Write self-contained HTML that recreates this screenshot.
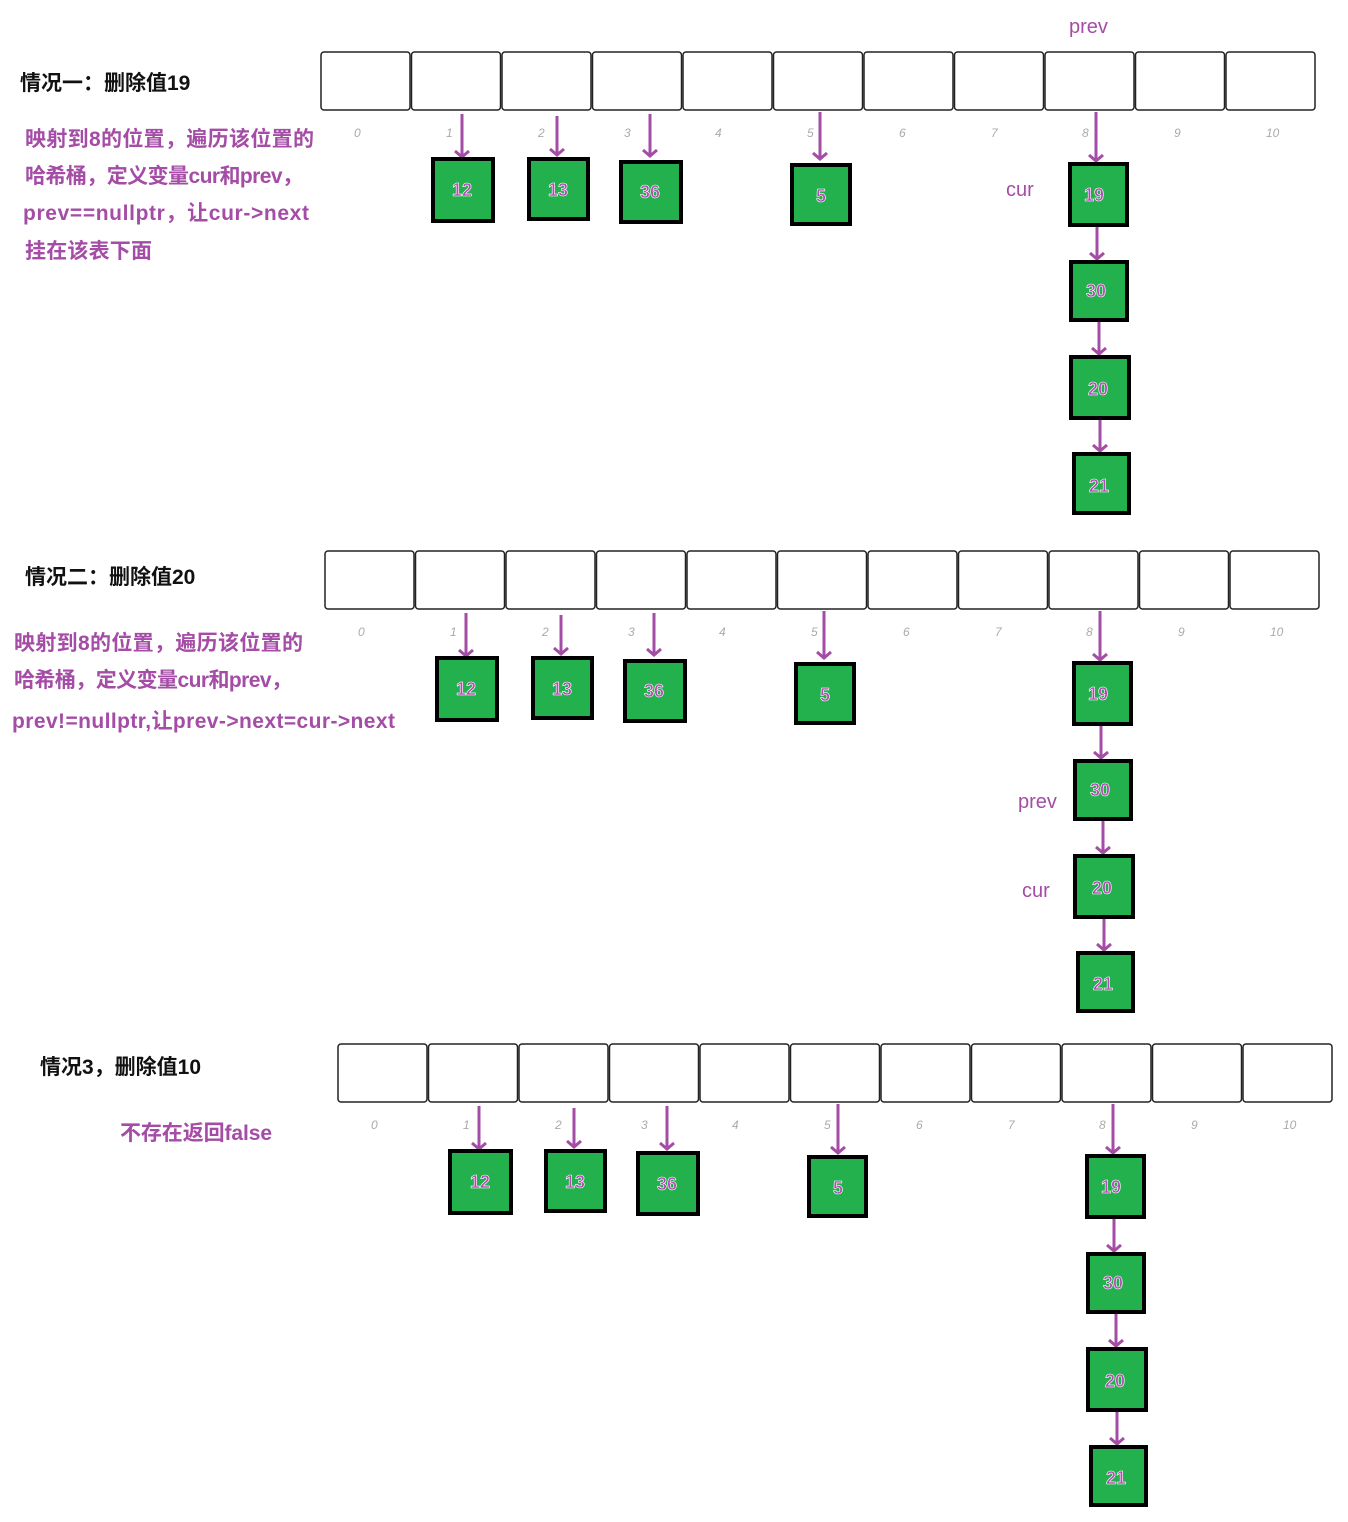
<!DOCTYPE html>
<html><head><meta charset="utf-8"><style>
html,body{margin:0;padding:0;background:#fff}
svg{display:block}
.t{font-family:"Liberation Sans","Noto Sans CJK SC",sans-serif;font-weight:bold;font-size:21px;fill:#111}
.p{font-family:"Liberation Sans","Noto Sans CJK SC",sans-serif;font-weight:bold;font-size:21px;fill:#a44ca6}
.l{font-family:"Liberation Sans",sans-serif;font-style:italic;font-size:12px;fill:#aaa}
.c{fill:#fff;stroke:#222;stroke-width:1.5}
.n{fill:#22b14c;stroke:#000;stroke-width:4}
.v{font-family:"Liberation Sans",sans-serif;font-weight:bold;font-size:18px;fill:#b04cb4;stroke:#fff;stroke-width:0.6;text-anchor:middle}
.a{stroke:#a44ca6;stroke-width:3;fill:none}
</style></head><body>
<svg width="1348" height="1522" xmlns="http://www.w3.org/2000/svg">
<!-- Section 1 -->
<text class="t" x="20" y="90">情况一：删除值19</text>
<text class="p" x="25" y="146" textLength="289">映射到8的位置，遍历该位置的</text>
<text class="p" x="25" y="183" textLength="278">哈希桶，定义变量cur和prev，</text>
<text class="p" x="23" y="220" textLength="286">prev==nullptr，让cur-&gt;next</text>
<text class="p" x="25" y="258" textLength="127">挂在该表下面</text>
<text class="p" x="1069" y="33" style="font-weight:normal;font-size:20px">prev</text>
<text class="p" x="1006" y="196" style="font-weight:normal;font-size:20px">cur</text>
<g>
<rect class="c" x="321" y="52" width="89" height="58" rx="3"/><rect class="c" x="411.5" y="52" width="89" height="58" rx="3"/><rect class="c" x="502" y="52" width="89" height="58" rx="3"/><rect class="c" x="592.5" y="52" width="89" height="58" rx="3"/><rect class="c" x="683" y="52" width="89" height="58" rx="3"/><rect class="c" x="773.5" y="52" width="89" height="58" rx="3"/><rect class="c" x="864" y="52" width="89" height="58" rx="3"/><rect class="c" x="954.5" y="52" width="89" height="58" rx="3"/><rect class="c" x="1045" y="52" width="89" height="58" rx="3"/><rect class="c" x="1135.5" y="52" width="89" height="58" rx="3"/><rect class="c" x="1226" y="52" width="89" height="58" rx="3"/>
</g>
<g class="l"><text class="l" x="354" y="137">0</text><text class="l" x="446" y="137">1</text><text class="l" x="538" y="137">2</text><text class="l" x="624" y="137">3</text><text class="l" x="715" y="137">4</text><text class="l" x="807" y="137">5</text><text class="l" x="899" y="137">6</text><text class="l" x="991" y="137">7</text><text class="l" x="1082" y="137">8</text><text class="l" x="1174" y="137">9</text><text class="l" x="1266" y="137">10</text></g>
<path class="a" d="M462 114V157M455 151L462 157L469 151M557 116V155M550 149L557 155L564 149M650 114V156M643 150L650 156L657 150M820 112V159M813 153L820 159L827 153M1096 112V161M1089 155L1096 161L1103 155M1097 225V259M1090 253L1097 259L1104 253M1099 320V354M1092 348L1099 354L1106 348M1100 418V451M1093 445L1100 451L1107 445"/>
<rect class="n" x="433" y="159" width="60" height="62"/><text class="v" x="462" y="196">12</text>
<rect class="n" x="529" y="159" width="59" height="60"/><text class="v" x="558" y="196">13</text>
<rect class="n" x="621" y="162" width="60" height="60"/><text class="v" x="650" y="198">36</text>
<rect class="n" x="792" y="165" width="58" height="59"/><text class="v" x="821" y="202">5</text>
<rect class="n" x="1070" y="164" width="57" height="61"/><text class="v" x="1094" y="201">19</text>
<rect class="n" x="1071" y="262" width="56" height="58"/><text class="v" x="1096" y="297">30</text>
<rect class="n" x="1071" y="357" width="58" height="61"/><text class="v" x="1098" y="395">20</text>
<rect class="n" x="1074" y="454" width="55" height="59"/><text class="v" x="1099" y="492">21</text>

<!-- Section 2 -->
<text class="t" x="25" y="584">情况二：删除值20</text>
<text class="p" x="14" y="650" textLength="289">映射到8的位置，遍历该位置的</text>
<text class="p" x="14" y="687" textLength="278">哈希桶，定义变量cur和prev，</text>
<text class="p" x="12" y="728" textLength="383">prev!=nullptr,让prev-&gt;next=cur-&gt;next</text>
<text class="p" x="1018" y="808" style="font-weight:normal;font-size:20px">prev</text>
<text class="p" x="1022" y="897" style="font-weight:normal;font-size:20px">cur</text>
<g>
<rect class="c" x="325" y="551" width="89" height="58" rx="3"/><rect class="c" x="415.5" y="551" width="89" height="58" rx="3"/><rect class="c" x="506" y="551" width="89" height="58" rx="3"/><rect class="c" x="596.5" y="551" width="89" height="58" rx="3"/><rect class="c" x="687" y="551" width="89" height="58" rx="3"/><rect class="c" x="777.5" y="551" width="89" height="58" rx="3"/><rect class="c" x="868" y="551" width="89" height="58" rx="3"/><rect class="c" x="958.5" y="551" width="89" height="58" rx="3"/><rect class="c" x="1049" y="551" width="89" height="58" rx="3"/><rect class="c" x="1139.5" y="551" width="89" height="58" rx="3"/><rect class="c" x="1230" y="551" width="89" height="58" rx="3"/>
</g>
<g><text class="l" x="358" y="636">0</text><text class="l" x="450" y="636">1</text><text class="l" x="542" y="636">2</text><text class="l" x="628" y="636">3</text><text class="l" x="719" y="636">4</text><text class="l" x="811" y="636">5</text><text class="l" x="903" y="636">6</text><text class="l" x="995" y="636">7</text><text class="l" x="1086" y="636">8</text><text class="l" x="1178" y="636">9</text><text class="l" x="1270" y="636">10</text></g>
<path class="a" d="M466 613V656M459 650L466 656L473 650M561 615V654M554 648L561 654L568 648M654 613V655M647 649L654 655L661 649M824 611V658M817 652L824 658L831 652M1100 611V660M1093 654L1100 660L1107 654M1101 724V758M1094 752L1101 758L1108 752M1103 819V853M1096 847L1103 853L1110 847M1104 917V950M1097 944L1104 950L1111 944"/>
<rect class="n" x="437" y="658" width="60" height="62"/><text class="v" x="466" y="695">12</text>
<rect class="n" x="533" y="658" width="59" height="60"/><text class="v" x="562" y="695">13</text>
<rect class="n" x="625" y="661" width="60" height="60"/><text class="v" x="654" y="697">36</text>
<rect class="n" x="796" y="664" width="58" height="59"/><text class="v" x="825" y="701">5</text>
<rect class="n" x="1074" y="663" width="57" height="61"/><text class="v" x="1098" y="700">19</text>
<rect class="n" x="1075" y="761" width="56" height="58"/><text class="v" x="1100" y="796">30</text>
<rect class="n" x="1075" y="856" width="58" height="61"/><text class="v" x="1102" y="894">20</text>
<rect class="n" x="1078" y="953" width="55" height="58"/><text class="v" x="1103" y="990">21</text>

<!-- Section 3 -->
<text class="t" x="40" y="1074">情况3，删除值10</text>
<text class="p" x="120" y="1140" textLength="152">不存在返回false</text>
<g>
<rect class="c" x="338" y="1044" width="89" height="58" rx="3"/><rect class="c" x="428.5" y="1044" width="89" height="58" rx="3"/><rect class="c" x="519" y="1044" width="89" height="58" rx="3"/><rect class="c" x="609.5" y="1044" width="89" height="58" rx="3"/><rect class="c" x="700" y="1044" width="89" height="58" rx="3"/><rect class="c" x="790.5" y="1044" width="89" height="58" rx="3"/><rect class="c" x="881" y="1044" width="89" height="58" rx="3"/><rect class="c" x="971.5" y="1044" width="89" height="58" rx="3"/><rect class="c" x="1062" y="1044" width="89" height="58" rx="3"/><rect class="c" x="1152.5" y="1044" width="89" height="58" rx="3"/><rect class="c" x="1243" y="1044" width="89" height="58" rx="3"/>
</g>
<g><text class="l" x="371" y="1129">0</text><text class="l" x="463" y="1129">1</text><text class="l" x="555" y="1129">2</text><text class="l" x="641" y="1129">3</text><text class="l" x="732" y="1129">4</text><text class="l" x="824" y="1129">5</text><text class="l" x="916" y="1129">6</text><text class="l" x="1008" y="1129">7</text><text class="l" x="1099" y="1129">8</text><text class="l" x="1191" y="1129">9</text><text class="l" x="1283" y="1129">10</text></g>
<path class="a" d="M479 1106V1149M472 1143L479 1149L486 1143M574 1108V1147M567 1141L574 1147L581 1141M667 1106V1149M660 1143L667 1149L674 1143M838 1104V1153M831 1147L838 1153L845 1147M1113 1104V1153M1106 1147L1113 1153L1120 1147M1114 1217V1251M1107 1245L1114 1251L1121 1245M1116 1312V1346M1109 1340L1116 1346L1123 1340M1117 1410V1444M1110 1438L1117 1444L1124 1438"/>
<rect class="n" x="450" y="1151" width="61" height="62"/><text class="v" x="480" y="1188">12</text>
<rect class="n" x="546" y="1151" width="59" height="60"/><text class="v" x="575" y="1188">13</text>
<rect class="n" x="638" y="1153" width="60" height="61"/><text class="v" x="667" y="1190">36</text>
<rect class="n" x="809" y="1157" width="57" height="59"/><text class="v" x="838" y="1194">5</text>
<rect class="n" x="1087" y="1156" width="57" height="61"/><text class="v" x="1111" y="1193">19</text>
<rect class="n" x="1088" y="1254" width="56" height="58"/><text class="v" x="1113" y="1289">30</text>
<rect class="n" x="1088" y="1349" width="58" height="61"/><text class="v" x="1115" y="1387">20</text>
<rect class="n" x="1091" y="1447" width="55" height="58"/><text class="v" x="1116" y="1484">21</text>
</svg>
</body></html>
